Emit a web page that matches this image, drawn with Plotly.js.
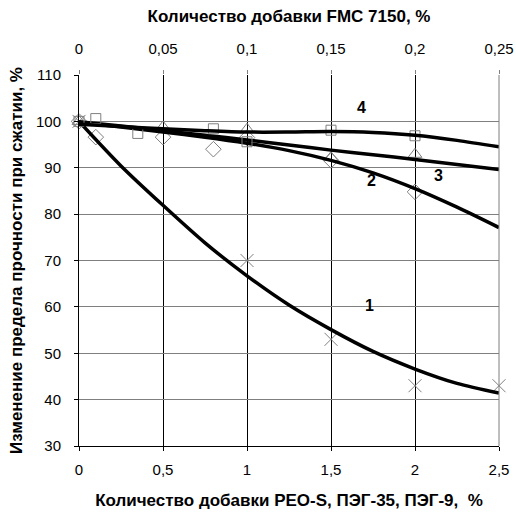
<!DOCTYPE html>
<html>
<head>
<meta charset="utf-8">
<script src="https://cdn.plot.ly/plotly-3.0.1.min.js"></script>
<style>body{margin:0;padding:0;background:#fff}#chart{width:516px;height:512px}</style>
</head>
<body>
<div id="chart"></div>
<script>
// Marker data (measured points)
var xCross = [0, 1, 1.5, 2, 2.5];
var yCross = [100, 70, 53, 43, 43];
var xDiamond = [0, 0.1, 0.5, 0.8, 1, 1.5, 2];
var yDiamond = [100, 96.6, 96.6, 94, 96.5, 91.6, 84.8];
var xTriangle = [0, 0.5, 1, 1.5, 2];
var yTriangle = [100, 98.8, 98.3, 92.2, 92.9];
// FMC 7150 (top axis)
var xSquare = [0, 0.01, 0.035, 0.08, 0.1, 0.15, 0.2];
var ySquare = [100, 100.6, 97.4, 98.4, 95.6, 98.1, 96.9];

// Trend curves
var xCurve = [0, 0.25, 0.5, 0.75, 1, 1.25, 1.5, 1.75, 2, 2.25, 2.5];
var yCurve1 = [100, 90.4, 81.9, 73.8, 66.7, 60.4, 55.1, 50.4, 46.6, 43.5, 41.4];
var yCurve2 = [99.8, 98.8, 97.7, 96.6, 95.3, 93.7, 91.6, 88.9, 85.5, 81.5, 77.1];
var yCurve3 = [99.9, 99.0, 98.0, 97.0, 96.0, 94.9, 93.8, 92.8, 91.8, 90.7, 89.6];
var xCurve4 = [0, 0.025, 0.05, 0.075, 0.1, 0.125, 0.15, 0.175, 0.2, 0.225, 0.25];
var yCurve4 = [99.4, 98.9, 98.4, 98.0, 97.7, 97.7, 97.8, 97.6, 97.0, 95.9, 94.5];

var yTicks = [30, 40, 50, 60, 70, 80, 90, 100, 110];
var labels = ['1', '2', '3', '4'];

function markerTrace(x, y, sym, size, axis) {
  return {x: x, y: y, mode: 'markers', type: 'scatter', xaxis: axis || 'x', yaxis: 'y',
    cliponaxis: false, hoverinfo: 'skip',
    marker: {symbol: sym, size: size, color: '#7f7f7f', line: {color: '#7f7f7f', width: 1}}};
}
function lineTrace(x, y, axis) {
  return {x: x, y: y, mode: 'lines', type: 'scatter', xaxis: axis || 'x', yaxis: 'y',
    line: {color: '#000', width: 3.5, shape: 'spline', smoothing: 0.8}, hoverinfo: 'skip'};
}

var data = [
  markerTrace(xCross, yCross, 'x-thin-open', 13),
  markerTrace(xDiamond, yDiamond, 'diamond-open', 12),
  markerTrace(xTriangle, yTriangle, 'triangle-up-open', 12),
  markerTrace(xSquare, ySquare, 'square-open', 10, 'x2'),
  lineTrace(xCurve, yCurve1),
  lineTrace(xCurve, yCurve2),
  lineTrace(xCurve, yCurve3),
  lineTrace(xCurve4, yCurve4, 'x2')
];

var font = {family: 'Liberation Sans, Arial, sans-serif', size: 15, color: '#000'};
var titleFont = {family: 'Liberation Sans, Arial, sans-serif', size: 17, color: '#000'};

var layout = {
  width: 516, height: 512,
  margin: {l: 79, r: 17, t: 75, b: 66, pad: 0},
  paper_bgcolor: '#fff', plot_bgcolor: '#fff',
  separators: ', ',
  showlegend: false,
  font: font,
  xaxis: {
    range: [0, 2.5], dtick: 0.5, tick0: 0,
    showgrid: true, gridcolor: '#000', gridwidth: 1,
    zeroline: false, showline: true, linecolor: '#000', linewidth: 1,
    ticks: 'outside', ticklen: 4, tickcolor: '#000',
    tickfont: font, ticklabelstandoff: 6,
    title: {text: '<b>Количество добавки PEO-S, ПЭГ-35, ПЭГ-9,&nbsp;&nbsp;%</b>', font: titleFont, standoff: 17}
  },
  xaxis2: {
    range: [0, 0.25], dtick: 0.05, tick0: 0,
    overlaying: 'x', side: 'top', anchor: 'y',
    showgrid: false, zeroline: false, showline: false,
    ticks: 'outside', ticklen: 4, tickcolor: '#7f7f7f',
    tickfont: font, ticklabelstandoff: 10,
    title: {text: '<b>Количество добавки FMC 7150, %</b>', font: titleFont, standoff: 13}
  },
  yaxis: {
    range: [30, 110], tickvals: yTicks,
    showgrid: true, gridcolor: '#7f7f7f', gridwidth: 1,
    zeroline: false, showline: true, linecolor: '#000', linewidth: 1,
    ticks: 'outside', ticklen: 4, tickcolor: '#000',
    tickfont: font, ticklabelstandoff: 10,
    title: {text: '<b>Изменение предела прочности при сжатии, %</b>', font: titleFont, standoff: 9}
  },
  shapes: [
    {type: 'line', xref: 'paper', yref: 'paper', x0: 1, x1: 1, y0: 0, y1: 1,
     line: {color: '#7f7f7f', width: 1}}
  ],
  annotations: [
    {text: '<b>' + labels[0] + '</b>', x: 1.73, y: 60.2, xref: 'x', yref: 'y', showarrow: false, font: {family: 'Liberation Sans, Arial', size: 16, color: '#000'}},
    {text: '<b>' + labels[1] + '</b>', x: 1.74, y: 87.3, xref: 'x', yref: 'y', showarrow: false, font: {family: 'Liberation Sans, Arial', size: 16, color: '#000'}},
    {text: '<b>' + labels[2] + '</b>', x: 2.14, y: 88.3, xref: 'x', yref: 'y', showarrow: false, font: {family: 'Liberation Sans, Arial', size: 16, color: '#000'}},
    {text: '<b>' + labels[3] + '</b>', x: 1.68, y: 102.9, xref: 'x', yref: 'y', showarrow: false, font: {family: 'Liberation Sans, Arial', size: 16, color: '#000'}}
  ]
};

Plotly.newPlot('chart', data, layout, {staticPlot: true, displayModeBar: false});
</script>
</body>
</html>
